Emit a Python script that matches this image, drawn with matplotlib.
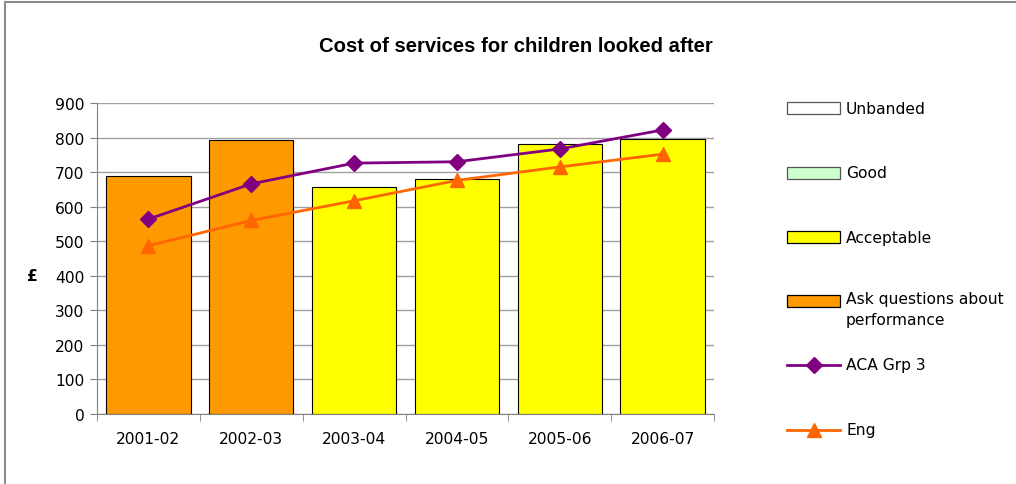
import numpy as np
import matplotlib
matplotlib.use("Agg")
import matplotlib.pyplot as plt
from matplotlib.patches import Rectangle
from matplotlib.lines import Line2D

# Dados
anos = ["2001-02", "2002-03", "2003-04", "2004-05", "2005-06", "2006-07"]
custo = [688, 792, 656, 680, 780, 795]
faixa = ["Ask questions about performance", "Ask questions about performance",
         "Acceptable", "Acceptable", "Acceptable", "Acceptable"]
aca_grp3 = [564, 666, 726, 730, 767, 822]
eng = [487, 560, 617, 676, 715, 752]

cores_faixa = {
    "Unbanded": "#FFFFFF",
    "Good": "#CCFFCC",
    "Acceptable": "#FFFF00",
    "Ask questions about performance": "#FF9900",
}
cor_aca = "#800080"
cor_eng = "#FF6600"

plt.rcParams["font.family"] = "DejaVu Sans"
fs = 11.2

W, H = 1016, 485
fig = plt.figure(figsize=(W / 100, H / 100), dpi=100)
fig.patch.set_facecolor("white")

# moldura cinza
fig.add_artist(Rectangle((5 / W, -0.05), 1.1, (482 / H) + 0.05, transform=fig.transFigure,
                         facecolor="none", edgecolor="#8c8c8c", linewidth=1.5))

ax = fig.add_axes([97 / W, 70 / H, (714 - 97) / W, (415 - 104) / H])
x = np.arange(len(anos))

ax.bar(x, custo, width=0.82, color=[cores_faixa[f] for f in faixa],
       edgecolor="black", linewidth=0.8, zorder=2)
ax.plot(x, aca_grp3, color=cor_aca, marker="D", markersize=8, linewidth=2, zorder=3)
ax.plot(x, eng, color=cor_eng, marker="^", markersize=10, linewidth=2, zorder=3)

ax.set_xlim(-0.5, len(anos) - 0.5)
ax.set_ylim(0, 900)
ax.set_yticks(np.arange(0, 901, 100))
ax.yaxis.grid(True, color="#a0a0a0", linewidth=1, zorder=0)
ax.set_axisbelow(True)

ax.set_xticks(x)
ax.set_xticklabels(anos, fontsize=fs)
ax.set_xticks(np.arange(-0.5, len(anos), 1), minor=True)
ax.tick_params(axis="x", which="major", length=0, pad=12)
ax.tick_params(axis="x", which="minor", length=5, color="#808080")
ax.tick_params(axis="y", labelsize=fs, length=5, color="#808080", pad=4)

for s in ["top", "right"]:
    ax.spines[s].set_visible(False)
for s in ["left", "bottom"]:
    ax.spines[s].set_color("#808080")

fig.text(516 / W, 1 - 47 / H, "Cost of services for children looked after",
         ha="center", va="center", fontsize=14.6, fontweight="bold",
         family="Liberation Sans")
fig.text(32 / W, 1 - 277 / H, "£", ha="center", va="center", fontsize=fs,
         fontweight="bold")

# legenda manual
x0, x1, xt = 787 / W, 840 / W, 846 / W
itens = [("Unbanded", 109), ("Good", 174), ("Acceptable", 238),
         ("Ask questions about performance", 302)]
for nome, yc in itens:
    borda = "#555555" if nome in ("Unbanded", "Good") else "black"
    fig.add_artist(Rectangle((x0, 1 - (yc + 6) / H), x1 - x0, 12 / H,
                             transform=fig.transFigure, facecolor=cores_faixa[nome],
                             edgecolor=borda, linewidth=0.9))
    if nome.startswith("Ask"):
        fig.text(xt, 1 - (yc - 10) / H, "Ask questions about\nperformance", ha="left",
                 va="top", fontsize=fs, linespacing=1.5)
    else:
        fig.text(xt, 1 - yc / H, nome, ha="left", va="center", fontsize=fs)

for nome, yc, cor, mk, ms in [("ACA Grp 3", 366, cor_aca, "D", 8),
                              ("Eng", 431, cor_eng, "^", 10)]:
    fig.add_artist(Line2D([x0, x1], [1 - yc / H, 1 - yc / H], color=cor, linewidth=2,
                          transform=fig.transFigure))
    fig.add_artist(Line2D([(x0 + x1) / 2], [1 - yc / H], color=cor, marker=mk,
                          markersize=ms, transform=fig.transFigure))
    fig.text(xt, 1 - yc / H, nome, ha="left", va="center", fontsize=fs)

fig.savefig("out.png", dpi=100)
